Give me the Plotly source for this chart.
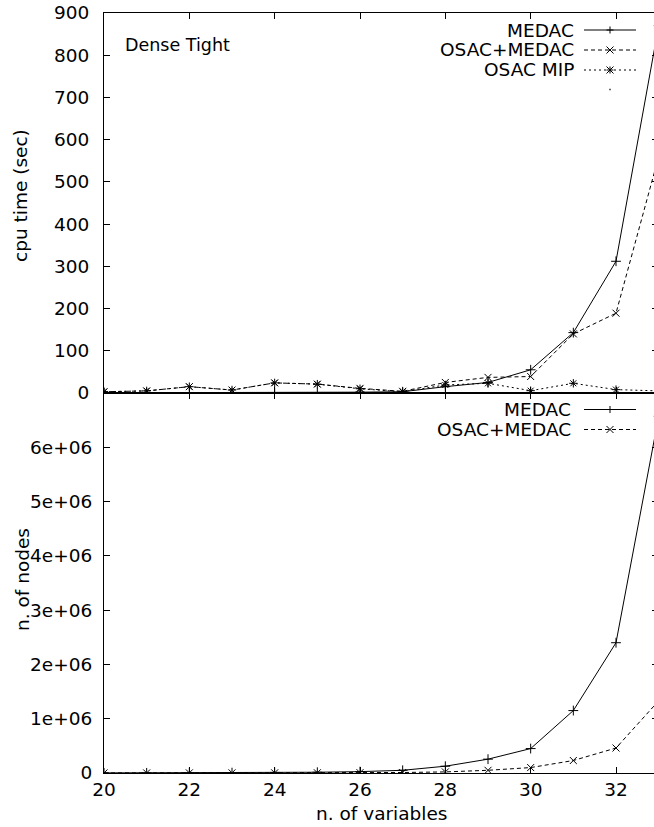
import plotly.graph_objects as go

# ---------------- data ----------------
n_vars = [20, 21, 22, 23, 24, 25, 26, 27, 28, 29, 30, 31, 32, 33]

cpu_medac      = [0.5, 0.5, 0.8, 0.8, 1, 1, 2, 3, 15, 25, 55, 143, 312, 870]
cpu_osac_medac = [3, 5, 15, 7, 24, 21, 11, 4, 25, 37, 39, 140, 189, 560]
cpu_osac_mip   = [3, 5, 15, 7, 24, 21, 10, 3, 19, 23, 5.5, 23, 8, 5]

nodes_medac      = [2000, 3000, 5000, 7000, 10000, 14000, 25000, 50000,
                    125000, 255000, 450000, 1150000, 2400000, 6570000]
nodes_osac_medac = [1000, 1500, 2000, 2500, 3000, 4000, 6000, 9000,
                    20000, 50000, 100000, 230000, 460000, 1330000]

cpu_ticks = [0, 100, 200, 300, 400, 500, 600, 700, 800, 900]
node_ticks = [0, 1e6, 2e6, 3e6, 4e6, 5e6, 6e6]
node_tick_text = ["0", "1e+06", "2e+06", "3e+06", "4e+06", "5e+06", "6e+06"]
x_ticks = [20, 22, 24, 26, 28, 30, 32]

# ---------------- layout geometry ----------------
W, H = 654, 827
L, R, T = 104, 0, 13
PLOT_BOTTOM = 773
B = H - PLOT_BOTTOM
PW = W - L - R
PH = PLOT_BOTTOM - T
FONT = "DejaVu Sans"
FS = 18.5

def px(x):
    return (x - L) / PW

def py(y):
    return (PLOT_BOTTOM - y) / PH

DASH = "4px,3px"
DOT = "2px,3px"

fig = go.Figure()

def add_series(x, y, xa, ya, dash, symbol):
    fig.add_trace(go.Scatter(
        x=x, y=y, xaxis=xa, yaxis=ya, mode="lines+markers",
        line=dict(color="black", width=1, dash=dash),
        marker=dict(symbol=symbol, size=7, color="black",
                    line=dict(color="black", width=1)),
        showlegend=False, hoverinfo="skip"))

add_series(n_vars, cpu_medac, "x", "y", "solid", "cross-thin-open")
add_series(n_vars, cpu_osac_medac, "x", "y", DASH, "x-thin-open")
add_series(n_vars, cpu_osac_mip, "x", "y", DOT, "asterisk-open")
add_series(n_vars, nodes_medac, "x2", "y2", "solid", "cross-thin-open")
add_series(n_vars, nodes_osac_medac, "x2", "y2", DASH, "x-thin-open")

xr = [20, 20 + PW / ((616 - 104) / 12.0)]

axis_common = dict(showline=True, linecolor="black", linewidth=1,
                   ticks="inside", ticklen=6, tickcolor="black", tickwidth=1,
                   showgrid=False, zeroline=False,
                   tickfont=dict(family=FONT, size=FS, color="black"))

fig.update_layout(
    width=W, height=H,
    margin=dict(l=L, r=R, t=T, b=B, pad=0),
    paper_bgcolor="white", plot_bgcolor="white",
    font=dict(family=FONT, size=FS, color="black"),
    xaxis=dict(domain=[0, 1], anchor="y", range=xr, tickvals=x_ticks,
               showticklabels=False, mirror="ticks", **axis_common),
    yaxis=dict(domain=[0.5, 1], anchor="x", range=[0, 900], tickvals=cpu_ticks,
               ticklabelstandoff=10, **axis_common),
    xaxis2=dict(domain=[0, 1], anchor="y2", range=xr, tickvals=x_ticks,
                mirror="ticks", **axis_common),
    yaxis2=dict(domain=[0, 0.5], anchor="x2", range=[0, 7e6], tickvals=node_ticks,
                ticktext=node_tick_text, ticklabelstandoff=7, **axis_common),
    yaxis3=dict(overlaying="y", side="right", anchor="x", range=[0, 900],
                tickvals=cpu_ticks, showticklabels=False, ticks="inside",
                ticklen=2, tickcolor="black", showline=False, showgrid=False,
                zeroline=False),
    yaxis4=dict(overlaying="y2", side="right", anchor="x2", range=[0, 7e6],
                tickvals=node_ticks, showticklabels=False, ticks="inside",
                ticklen=2, tickcolor="black", showline=False, showgrid=False,
                zeroline=False),
)

# empty traces to activate the right-side tick axes
fig.add_trace(go.Scatter(x=[None], y=[None], xaxis="x", yaxis="y3",
                         showlegend=False, hoverinfo="skip"))
fig.add_trace(go.Scatter(x=[None], y=[None], xaxis="x2", yaxis="y4",
                         showlegend=False, hoverinfo="skip"))

annotations = []
shapes = []

def text(x, y, s, xanchor="center", angle=0, size=FS):
    annotations.append(dict(x=px(x), y=py(y), xref="paper", yref="paper",
                            text=s, showarrow=False, xanchor=xanchor,
                            yanchor="middle", textangle=angle,
                            font=dict(family=FONT, size=size, color="black")))

def mline(xc, yc, dx0, dy0, dx1, dy1, w=1):
    shapes.append(dict(type="line", xref="paper", yref="paper",
                       xsizemode="pixel", ysizemode="pixel",
                       xanchor=px(xc), yanchor=py(yc),
                       x0=dx0, y0=dy0, x1=dx1, y1=dy1,
                       line=dict(color="black", width=w)))

def glyph(xc, yc, kind, s=3.5):
    if kind in ("plus", "star"):
        mline(xc, yc, -s, 0, s, 0)
        mline(xc, yc, 0, -s, 0, s)
    if kind in ("x", "star"):
        mline(xc, yc, -s, -s, s, s)
        mline(xc, yc, -s, s, s, -s)
    if kind == "dot":
        mline(xc, yc, -0.6, 0, 0.6, 0, w=1.5)

def legend_entry(ytext, label, dash, kind, text_right=576):
    if label:
        text(text_right, ytext, label, xanchor="right")
    if dash is not None:
        shapes.append(dict(type="line", xref="paper", yref="paper",
                           x0=px(584), x1=px(636), y0=py(ytext), y1=py(ytext),
                           line=dict(color="black", width=1, dash=dash)))
    glyph(610, ytext, kind)

# top panel legend
legend_entry(30, "MEDAC", "solid", "plus")
legend_entry(50, "OSAC+MEDAC", DASH, "x")
legend_entry(70, "OSAC MIP", DOT, "star")
legend_entry(89.5, "", None, "dot")

# bottom panel legend
legend_entry(409.5, "MEDAC", "solid", "plus", text_right=573)
legend_entry(429.5, "OSAC+MEDAC", DASH, "x", text_right=573)

# panel label and axis titles
text(123, 45, "Dense Tight", xanchor="left", size=17.5)
text(20, 196, "cpu time (sec)", angle=-90)
text(22, 580, "n. of nodes", angle=-90)
text(381, 813, "n. of variables")

fig.update_layout(annotations=annotations, shapes=shapes)

# remove the default 8px page margin so the figure fills the window exactly
fig.write_html("out.html",
               config={"displayModeBar": False},
               post_script="document.body.style.margin='0px';"
                           "document.body.style.overflow='hidden';")
